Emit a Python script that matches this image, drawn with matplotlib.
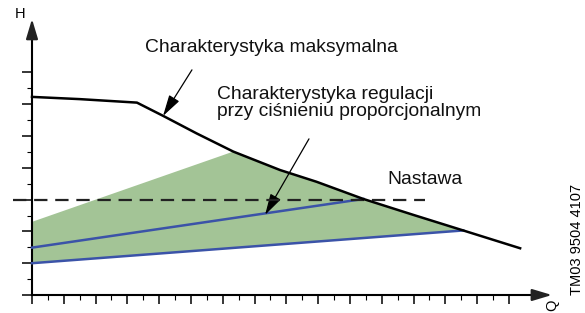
import numpy as np
import matplotlib.pyplot as plt

plt.rcParams['font.family'] = ['Liberation Sans', 'DejaVu Sans']

# maximum curve (Q, H) in tick units
max_q = [0, 1.5, 3.3, 4.13, 5.18, 6.33, 7.8, 8.95, 10.42, 11.99, 13.56, 15.35]
max_h = [6.23, 6.16, 6.05, 5.63, 5.08, 4.51, 3.93, 3.56, 3.02, 2.52, 2.03, 1.47]

# proportional pressure lines
upper_q = [0, 10.42]
upper_h = [1.49, 3.02]
lower_q = [0, 13.56]
lower_h = [1.0, 2.03]

# green area: top-left corner, then along max curve, back along lower line
area_start_h = 2.30
area_from, area_to = 5, 10

setpoint_h = 3.0
setpoint_q = [-0.6, 12.36]

x_major = np.arange(0, 16)
x_minor = np.arange(0.5, 15, 1)
y_major = np.arange(0, 8)
y_minor = np.arange(0.5, 7, 1)

green = '#a3c496'
blue = '#3b53a8'

fig = plt.figure(figsize=(5.85, 3.13), dpi=100)
ax = fig.add_axes([0, 0, 1, 1])
ax.set_xlim(-1.0063, 17.39)
ax.set_ylim(-0.566, 9.277)

# shaded region
poly_q = [0] + max_q[area_from:area_to + 1] + [lower_q[0]]
poly_h = [area_start_h] + max_h[area_from:area_to + 1] + [lower_h[0]]
ax.fill(poly_q, poly_h, color=green, lw=0, zorder=1)

ax.plot(upper_q, upper_h, color=blue, lw=1.8, zorder=3)
ax.plot(lower_q, lower_h, color=blue, lw=1.8, zorder=3)
ax.plot(setpoint_q, [setpoint_h, setpoint_h], color='#222222', lw=1.6,
        dashes=(6, 3.5), zorder=4)
ax.plot(max_q, max_h, color='black', lw=1.8, zorder=5,
        solid_joinstyle='round')

# axes
for s in ['top', 'right']:
    ax.spines[s].set_visible(False)
ax.spines['left'].set_position(('data', 0))
ax.spines['bottom'].set_position(('data', 0))
ax.spines['left'].set_bounds(0, 8.3)
ax.spines['bottom'].set_bounds(0, 16.0)
ax.spines['left'].set_linewidth(1.5)
ax.spines['bottom'].set_linewidth(1.5)
ax.set_xticks(x_major)
ax.set_xticks(x_minor, minor=True)
ax.set_yticks(y_major)
ax.set_yticks(y_minor, minor=True)
ax.set_xticklabels([])
ax.set_yticklabels([])
ax.tick_params(axis='x', which='major', direction='out', length=6.5, width=1.1)
ax.tick_params(axis='x', which='minor', direction='out', length=3.6, width=0.8)
ax.tick_params(axis='y', which='major', direction='out', length=7.2, width=1.1)
ax.tick_params(axis='y', which='minor', direction='out', length=3.6, width=0.8)

head = dict(arrowstyle='-|>,head_length=0.6,head_width=0.18', color='#222222',
            lw=1.5, shrinkA=0, shrinkB=0, mutation_scale=20)
ax.annotate('', xy=(0, 8.68), xytext=(0, 8.2), arrowprops=head)
ax.annotate('', xy=(16.35, 0), xytext=(15.8, 0), arrowprops=head)

pointer = dict(arrowstyle='-|>,head_length=0.65,head_width=0.18', color='black',
               lw=0.9, shrinkA=0, shrinkB=0, mutation_scale=20)
ax.annotate('', xy=(4.12, 5.63), xytext=(5.03, 7.08), arrowprops=pointer)
ax.annotate('', xy=(7.33, 2.52), xytext=(8.71, 4.91), arrowprops=pointer)

ax.text(3.55, 7.77, 'Charakterystyka maksymalna', fontsize=13.9,
        ha='left', va='center', color='#111111')
ax.text(5.82, 6.04, 'Charakterystyka regulacji\nprzy ciśnieniu proporcjonalnym',
        fontsize=13.9, ha='left', va='center', linespacing=1.05, color='#111111')
ax.text(11.16, 3.62, 'Nastawa', fontsize=13.9, ha='left', va='center',
        color='#111111')
ax.text(-0.38, 8.84, 'H', fontsize=10.5, ha='center', va='center')
ax.text(16.35, -0.31, 'Q', fontsize=10.5, ha='center', va='center', rotation=90)
ax.text(17.14, 1.76, 'TM03 9504 4107', fontsize=10.5, ha='center', va='center',
        rotation=90)

fig.savefig('out.png', dpi=100)
